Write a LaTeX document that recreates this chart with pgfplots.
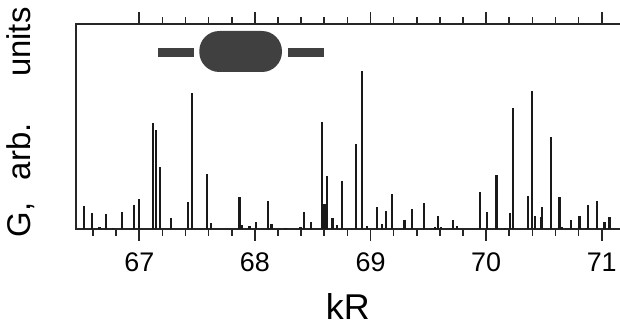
\documentclass[border=0pt]{standalone}
\usepackage{fontspec}
\setmainfont{Liberation Sans}
\usepackage{pgfplots}
\pgfplotsset{compat=1.18}
\pgfplotstableread{
x h
66.519 23.3
66.593 16.6
66.656 2.6
66.709 15
66.775 1.6
66.848 17.6
66.957 24.3
67.000 30
67.121 106.6
67.147 99.3
67.182 62
67.274 11
67.419 27.5
67.453 136
67.586 55.5
67.620 6.8
67.867 32
67.886 4.3
67.953 3
68.012 7.6
68.116 28.5
68.144 5.3
68.265 1.6
68.394 2.6
68.425 17.6
68.487 7
68.578 107.6
68.602 25.5
68.622 53.8
68.671 11.8
68.712 4.4
68.752 48.8
68.876 85.3
68.925 158
68.967 3.5
69.059 22
69.101 5.3
69.137 18.6
69.184 35
69.294 9.3
69.362 20
69.465 26.6
69.560 2.6
69.582 13.4
69.607 2
69.711 9.6
69.750 3.3
69.946 37.2
70.006 17.6
70.090 54.8
70.166 1.6
70.209 16
70.235 120.8
70.364 33.6
70.400 138.4
70.419 13.3
70.471 12.2
70.485 22.6
70.564 91.8
70.635 32.4
70.657 2
70.733 9.3
70.808 13.3
70.860 1.6
70.884 24.3
70.957 28
71.024 7.3
71.067 12.5
}\peaks
\begin{document}
\begin{tikzpicture}
\useasboundingbox (-75.7bp,-96.7bp) rectangle (544.3bp,229.3bp);
\begin{axis}[
  at={(0,0)}, anchor=south west,
  scale only axis, width=544.3bp, height=205bp,
  xmin=66.45, xmax=71.158, ymin=0, ymax=205,
  separate axis lines,
  x axis line style={line width=1.8bp, black!85},
  y axis line style={draw=none},
  xtick={67,68,69,70,71}, minor x tick num=4,
  ytick=\empty,
  xtick pos=upper, tick align=outside,
  major tick length=12bp, minor tick length=7bp,
  every tick/.style={line width=1.6bp, black!85},
  /pgf/number format/assume math mode=true,
  xticklabel pos=lower,
  xticklabel style={font=\fontsize{27}{27}\selectfont, anchor=base, yshift=-30bp},
  xlabel={kR},
  xlabel style={font=\fontsize{36}{36}\selectfont, anchor=base, inner sep=0pt, at={(axis description cs:0.5,-0.44)}},
  ylabel={G,\hspace{22.7bp}arb.\hspace{46.5bp}units},
  ylabel style={font=\fontsize{33}{33}\selectfont, anchor=center, inner sep=0pt, at={(axis description cs:-0.1005,0.521)}},
  clip=false,
]
\addplot[ycomb, line width=2.1bp, black!90, no markers] table[x=x, y=h] {\peaks};
\draw[line width=1.8bp, black!85, line cap=rect] (rel axis cs:0,0) -- (rel axis cs:0,1);
\pgfplotsinvokeforeach{67,68,69,70,71}{
  \draw[line width=1.6bp, black!85] (axis cs:#1,0) -- ([yshift=-12bp]axis cs:#1,0);
}
\pgfplotsinvokeforeach{66.6,66.8,67.2,67.4,67.6,67.8,68.2,68.4,68.6,68.8,69.2,69.4,69.6,69.8,70.2,70.4,70.6,70.8}{
  \draw[line width=1.6bp, black!85] (axis cs:#1,0) -- ([yshift=-7bp]axis cs:#1,0);
}
\fill[black!75, rounded corners=20bp] (axis cs:67.519,157.3) rectangle (axis cs:68.234,198.3);
\fill[black!75] (axis cs:67.164,172.6) rectangle (axis cs:67.473,181.6);
\fill[black!75] (axis cs:68.289,172.6) rectangle (axis cs:68.598,181.6);
\end{axis}
\end{tikzpicture}
\end{document}
